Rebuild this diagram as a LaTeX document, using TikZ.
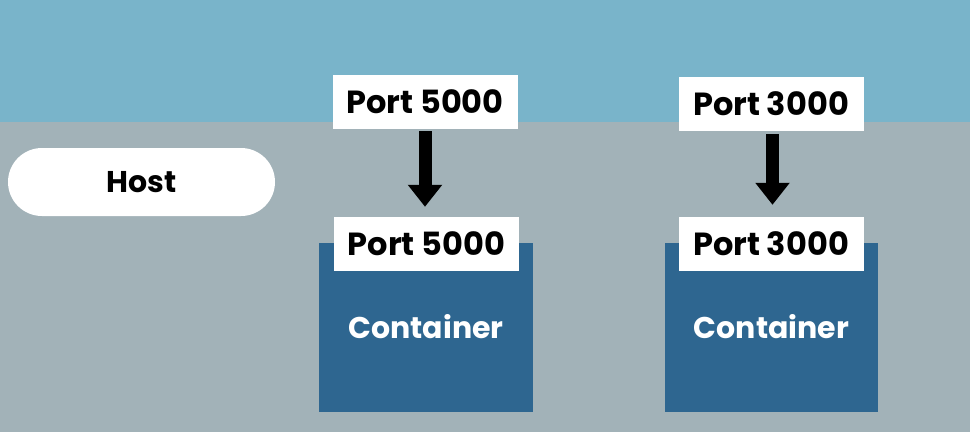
\documentclass[tikz,border=0pt]{standalone}
\usepackage{fontspec}
\setmainfont{Poppins}
\usetikzlibrary{arrows.meta}
\definecolor{skyband}{RGB}{121,180,202}
\definecolor{hostgray}{RGB}{162,178,184}
\definecolor{contblue}{RGB}{46,102,144}
\tikzset{
  portbox/.style={fill=white, draw=none, minimum width=185pt, minimum height=54pt, inner sep=0pt,
    font=\fontsize{32}{32}\selectfont\bfseries, text=black},
  conttext/.style={font=\fontsize{30}{30}\selectfont\bfseries, text=white},
  hostpill/.style={fill=white, draw=none, rounded corners=34pt, minimum width=267pt, minimum height=68pt,
    inner sep=0pt, font=\fontsize{30}{30}\selectfont\bfseries, text=black},
  maparrow/.style={line width=13pt, -{Triangle[width=33pt,length=22pt]}, black}
}
\begin{document}
\begin{tikzpicture}[x=1pt,y=-1pt]
\useasboundingbox (0,0) rectangle (970,432);
% background
\fill[hostgray] (0,0) rectangle (970,432);
\fill[skyband] (0,0) rectangle (970,122);
% host
\node[hostpill] (host) at (141.5,182) {Host};
% containers
\fill[contblue] (319,243) rectangle (533,412);
\fill[contblue] (665,243) rectangle (878,412);
\node[conttext] (c1) at (426,327) {Container};
\node[conttext] (c2) at (771.5,327) {Container};
% ports
\node[portbox] (h1) at (425,102) {Port 5000};
\node[portbox] (p1) at (426.5,244) {Port 5000};
\node[portbox] (h2) at (771,104) {Port 3000};
\node[portbox] (p2) at (771,244) {Port 3000};
% arrows
\draw[maparrow] ([yshift=-2pt]h1.south) -- ([yshift=10pt]h1.south |- p1.north);
\draw[maparrow] ([xshift=1.5pt,yshift=-3pt]h2.south) -- ([xshift=1.5pt,yshift=12pt]h2.south |- p2.north);
\end{tikzpicture}
\end{document}
